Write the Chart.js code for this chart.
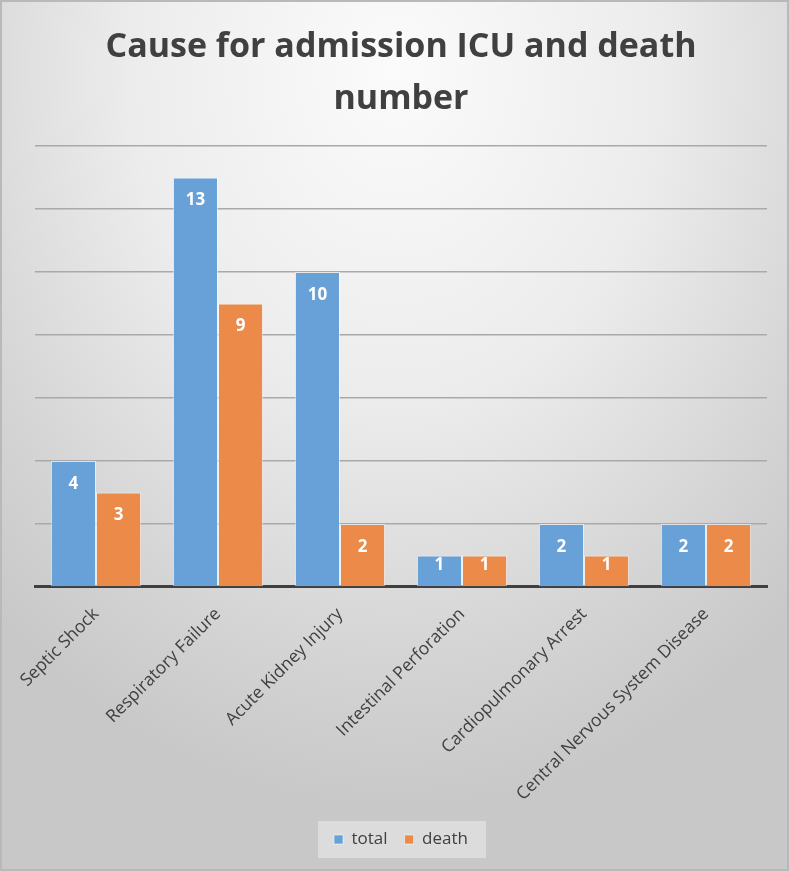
<!DOCTYPE html>
<html>
<head>
<meta charset="utf-8">
<script src="https://cdn.jsdelivr.net/npm/chart.js@4"></script>
<style>
  html, body { margin: 0; padding: 0; }
  #wrap {
    width: 789px; height: 871px; box-sizing: border-box;
    border: 2px solid #b9b9b9;
    background: radial-gradient(ellipse 75% 85% at 50% 8%, #fbfbfb 0%, #ececec 45%, #d4d4d4 80%, #c8c8c8 100%);
  }
</style>
</head>
<body>
<div id="wrap"><canvas id="chart"></canvas></div>
<script>
const causes = ['Septic Shock', 'Respiratory Failure', 'Acute Kidney Injury', 'Intestinal Perforation', 'Cardiopulmonary Arrest', 'Central Nervous System Disease'];
const totalCounts = [4, 13, 10, 1, 2, 2];
const deathCounts = [3, 9, 2, 1, 1, 2];

// white numbers inside top of each bar
const barValues = {
  id: 'barValues',
  afterDatasetsDraw(chart) {
    const ctx = chart.ctx;
    ctx.save();
    ctx.fillStyle = '#ffffff';
    ctx.font = 'bold 17px "Open Sans"';
    ctx.textAlign = 'center';
    ctx.textBaseline = 'middle';
    chart.data.datasets.forEach((ds, i) => {
      chart.getDatasetMeta(i).data.forEach((bar, j) => {
        const h = bar.base - bar.y;
        ctx.fillText(ds.data[j], bar.x, bar.y + Math.min(23, h - 21));
      });
    });
    ctx.restore();
  }
};

// grey box behind the legend
const legendBox = {
  id: 'legendBox',
  beforeDraw(chart) {
    const boxes = chart.legend.legendHitBoxes;
    if (!boxes || !boxes.length) return;
    const left = Math.min(...boxes.map(b => b.left)) - 16;
    const right = Math.max(...boxes.map(b => b.left + b.width)) + 18;
    const top = boxes[0].top - 10;
    const bottom = boxes[0].top + boxes[0].height + 10;
    const ctx = chart.ctx;
    ctx.save();
    ctx.fillStyle = '#dcdcdc';
    ctx.fillRect(left, top, right - left, bottom - top);
    ctx.restore();
  }
};

new Chart(document.getElementById('chart').getContext('2d'), {
  type: 'bar',
  data: {
    labels: causes,
    datasets: [
      {
        label: 'total',
        data: totalCounts,
        backgroundColor: '#67a1d8',
        borderColor: 'rgba(255,255,255,0.55)',
        borderWidth: 1
      },
      {
        label: 'death',
        data: deathCounts,
        backgroundColor: '#eb8a49',
        borderColor: 'rgba(255,255,255,0.55)',
        borderWidth: 1
      }
    ]
  },
  options: {
    responsive: true,
    maintainAspectRatio: false,
    animation: false,
    layout: { padding: { left: 33, right: 20, top: 19, bottom: 11 } },
    datasets: { bar: { categoryPercentage: 0.74, barPercentage: 1.0 } },
    plugins: {
      title: {
        display: true,
        text: ['Cause for admission ICU and death', 'number'],
        color: '#404040',
        font: { family: '"Open Sans"', size: 34, weight: 'bold', lineHeight: 1.53 },
        padding: { top: 0, bottom: 21 }
      },
      legend: {
        position: 'bottom',
        labels: {
          color: '#404040',
          font: { family: '"Open Sans"', size: 17 },
          boxWidth: 9,
          boxHeight: 9,
          padding: 17
        }
      },
      tooltip: { enabled: false }
    },
    scales: {
      x: {
        grid: { display: false },
        border: { display: true, color: '#3f3f3f', width: 3 },
        ticks: {
          color: '#404040',
          font: { family: '"Open Sans"', size: 17.5 },
          minRotation: 45,
          maxRotation: 45,
          padding: 9
        }
      },
      y: {
        min: 0,
        max: 14,
        ticks: { display: false, stepSize: 2 },
        border: { display: false },
        grid: { color: '#a9a9a9', lineWidth: 1.5, drawTicks: false }
      }
    }
  },
  plugins: [barValues, legendBox]
});
</script>
</body>
</html>
